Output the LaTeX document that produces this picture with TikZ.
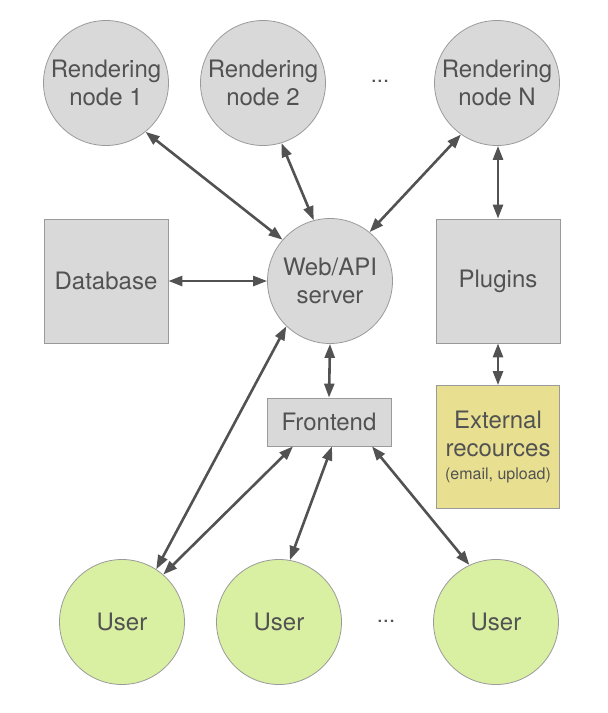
\documentclass[tikz,border=0pt]{standalone}
\usepackage{fontspec}
\setmainfont{TeX Gyre Heros}
\usetikzlibrary{arrows.meta}
\definecolor{nodegray}{HTML}{D9D9D9}
\definecolor{edgegray}{HTML}{9A9A9A}
\definecolor{txtgray}{HTML}{525252}
\definecolor{usergreen}{HTML}{D9EFA2}
\definecolor{extyellow}{HTML}{E8E090}
\begin{document}
\begin{tikzpicture}[x=1pt,y=-1pt,
  base/.style={draw=edgegray,line width=0.8pt,text=txtgray,inner sep=0pt,
    font=\fontsize{24}{28}\selectfont,align=center},
  rnode/.style={base,circle,fill=nodegray,minimum size=125pt},
  unode/.style={base,circle,fill=usergreen,minimum size=125pt},
  boxnode/.style={base,rectangle,fill=nodegray,minimum width=124pt,minimum height=124pt},
  conn/.style={draw=txtgray,line width=2.6pt,
    {Triangle[length=14pt,width=10pt]}-{Triangle[length=14pt,width=10pt]}},
  dots/.style={text=txtgray,font=\fontsize{22}{24}\selectfont}
]
\useasboundingbox (0,0) rectangle (608,713);
\node[rnode] (r1) at (106,83) {Rendering\\node 1};
\node[rnode] (r2) at (263,83) {Rendering\\node 2};
\node[dots] (d1) at (380,81) {...};
\node[rnode] (rn) at (497,83) {Rendering\\node N};
\node[boxnode] (db) at (106,281) {Database};
\node[rnode] (web) at (330,281) {Web/API\\server};
\node[boxnode] (pl) at (498,281) {Plugins};
\node[base,rectangle,fill=nodegray,minimum width=124pt,minimum height=48pt] (fe) at (329,422) {Frontend};
\node[base,rectangle,fill=extyellow,minimum width=123pt,minimum height=123pt] (ext) at (498,447)
  {External\\recources\\[-5pt]{\fontsize{16}{20}\selectfont(email, upload)}};
\node[unode] (u1) at (122,622) {User};
\node[unode] (u2) at (279,622) {User};
\node[dots] (d2) at (386,621) {...};
\node[unode] (u3) at (496,622) {User};

\draw[conn] (r1.-51) -- (web.139);
\draw[conn] (r2.-73) -- (web.105);
\draw[conn] (rn.-125) -- (web.51);
\draw[conn] (rn.south -| pl.north) -- (pl.north);
\draw[conn] (db.east |- web.west) -- (web.west);
\draw[conn] (pl.south) -- (ext.north);
\draw[conn] (web.south) -- (fe.north);
\draw[conn] (web.-134) -- (u1.57);
\draw[conn] ([xshift=-36pt]fe.south) -- (u1.49);
\draw[conn] ([xshift=3pt]fe.south) -- (u2.80);
\draw[conn] ([xshift=43pt]fe.south) -- (u3.115);
\end{tikzpicture}
\end{document}
